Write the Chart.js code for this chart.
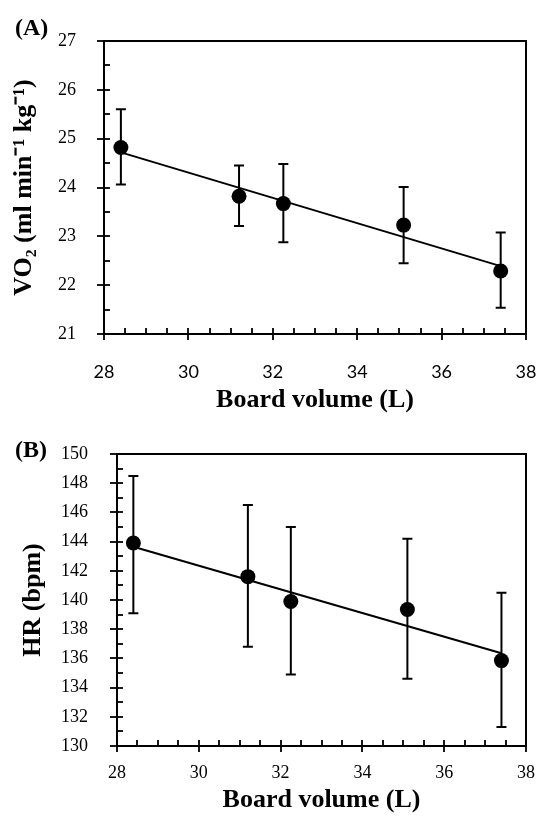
<!DOCTYPE html>
<html><head><meta charset="utf-8">
<script src="https://cdn.jsdelivr.net/npm/chart.js@4.4.1/dist/chart.umd.min.js"></script>
<style>
html,body{margin:0;padding:0;background:#fff;}
#wrap{position:relative;width:538px;height:819px;overflow:hidden;}
.pane{position:absolute;left:0;width:538px;}
#pa{top:0;height:420px;}
#pb{top:420px;height:399px;}
.lab{position:absolute;font:bold 24px "Liberation Serif",serif;line-height:24px;color:#000;}
</style></head>
<body><div id="wrap">
<div class="pane" id="pa"><canvas id="ca"></canvas></div>
<div class="pane" id="pb"><canvas id="cb"></canvas></div>
<div class="lab" style="left:15px;top:15px">(A)</div>
<div class="lab" style="left:15px;top:437px">(B)</div>
</div>
<script>
// ---- data ----
const boardVolume = [28.4, 31.2, 32.25, 35.1, 37.4];
const vo2Mean  = [24.82, 23.82, 23.67, 23.23, 22.29];
const vo2Upper = [25.60, 24.45, 24.48, 24.01, 23.08];
const vo2Lower = [24.06, 23.21, 22.88, 22.45, 21.54];
const fitX     = [28.4, 37.4];
const vo2Fit   = [24.72, 22.39];
const hrMean   = [143.9, 141.6, 139.9, 139.35, 135.85];
const hrUpper  = [148.5, 146.5, 145.0, 144.2, 140.5];
const hrLower  = [139.1, 136.8, 134.9, 134.6, 131.3];
const hrFit    = [143.65, 136.35];
const xTicks   = [28, 30, 32, 34, 36, 38];
const vo2Ticks = [21, 22, 23, 24, 25, 26, 27];
const hrTicks  = [130, 132, 134, 136, 138, 140, 142, 144, 146, 148, 150];

const SERIF = '"Liberation Serif", "Times New Roman", serif';

function framePlugin(o) {
  return {
    id: 'frame',
    beforeDatasetsDraw(chart) {
      const {ctx, chartArea: a, scales: {x, y}} = chart;
      ctx.save();
      ctx.strokeStyle = '#000';
      ctx.lineCap = 'butt';
      ctx.lineWidth = 2;
      ctx.strokeRect(a.left, a.top, a.right - a.left, a.bottom - a.top);
      ctx.lineWidth = 1.8;
      const nx = Math.round((x.max - x.min) / o.xMinor);
      for (let i = 0; i <= nx; i++) {
        const v = x.min + i * o.xMinor;
        const px = Math.round(x.getPixelForValue(v));
        const major = Math.abs(v / o.xMajor - Math.round(v / o.xMajor)) < 1e-6;
        ctx.beginPath();
        ctx.moveTo(px, a.bottom + (major ? 6 : 0));
        ctx.lineTo(px, a.bottom - 6);
        ctx.stroke();
      }
      const ny = Math.round((y.max - y.min) / o.yMinor);
      for (let i = 0; i <= ny; i++) {
        const v = y.min + i * o.yMinor;
        const py = Math.round(y.getPixelForValue(v));
        const major = Math.abs((v - y.min) / o.yMajor - Math.round((v - y.min) / o.yMajor)) < 1e-6;
        ctx.beginPath();
        ctx.moveTo(a.left - (major ? 7 : 0), py);
        ctx.lineTo(a.left + 6, py);
        ctx.stroke();
      }
      ctx.lineWidth = 2;
      for (let i = 0; i < o.xs.length; i++) {
        const px = x.getPixelForValue(o.xs[i]);
        const pt = y.getPixelForValue(o.upper[i]);
        const pb = y.getPixelForValue(o.lower[i]);
        ctx.beginPath();
        ctx.moveTo(px, pt); ctx.lineTo(px, pb);
        ctx.moveTo(px - 5, pt); ctx.lineTo(px + 5, pt);
        ctx.moveTo(px - 5, pb); ctx.lineTo(px + 5, pb);
        ctx.stroke();
      }
      ctx.restore();
    }
  };
}

function makeChart(id, p) {
  const pts = boardVolume.map((v, i) => ({x: v, y: p.mean[i]}));
  const fit = fitX.map((v, i) => ({x: v, y: p.fit[i]}));
  return new Chart(document.getElementById(id), {
    type: 'scatter',
    data: {
      datasets: [
        {data: pts, pointRadius: 7.5, pointHoverRadius: 7.5, backgroundColor: '#000', borderWidth: 0, pointBorderWidth: 0},
        {data: fit, showLine: true, pointRadius: 0, borderColor: '#000', borderWidth: 2, fill: false}
      ]
    },
    options: {
      responsive: true,
      maintainAspectRatio: false,
      animation: false,
      events: [],
      layout: {padding: {top: p.padTop, right: 12, left: 0, bottom: 0}},
      plugins: {legend: {display: false}, tooltip: {enabled: false}},
      scales: {
        x: {
          type: 'linear', min: 28, max: 38,
          afterBuildTicks: s => { s.ticks = xTicks.map(v => ({value: v})); },
          afterFit: s => { s.height = p.xHeight; s.paddingLeft = 0; s.paddingRight = 0; },
          grid: {display: false}, border: {display: false},
          ticks: {color: '#000', font: {family: p.xFont, size: 18}, padding: p.xPad, maxRotation: 0},
          title: {display: true, text: 'Board volume (L)', color: '#000',
                  font: {family: SERIF, size: 26, weight: 'bold'}, padding: {top: 0, bottom: p.xTitlePad}}
        },
        y: {
          type: 'linear', min: p.yTicks[0], max: p.yTicks[p.yTicks.length - 1],
          afterBuildTicks: s => { s.ticks = p.yTicks.map(v => ({value: v})); },
          afterFit: s => { s.width = p.yWidth; s.paddingTop = 0; s.paddingBottom = 0; },
          grid: {display: false}, border: {display: false},
          ticks: {color: '#000', font: {family: SERIF, size: 18}, padding: p.yPad},
          title: {display: true, text: p.yTitle, color: '#000',
                  font: {family: SERIF, size: 26, weight: 'bold'}, padding: {top: p.yTitlePad, bottom: 0}}
        }
      }
    },
    plugins: [framePlugin({xs: boardVolume, upper: p.upper, lower: p.lower,
                           xMinor: 0.5, xMajor: 2, yMinor: p.yMinor, yMajor: p.yMajor})]
  });
}

makeChart('ca', {
  mean: vo2Mean, upper: vo2Upper, lower: vo2Lower, fit: vo2Fit, yTicks: vo2Ticks,
  yTitle: 'VO\u2082 (ml min\u207B\u00B9 kg\u207B\u00B9)',
  padTop: 41, xHeight: 86, yWidth: 104, xPad: 19, yPad: 20, xTitlePad: 4, yTitlePad: 9,
  yMinor: 0.5, yMajor: 1, xFont: '"Lato", "Open Sans", sans-serif'
});
makeChart('cb', {
  mean: hrMean, upper: hrUpper, lower: hrLower, fit: hrFit, yTicks: hrTicks,
  yTitle: 'HR (bpm)',
  padTop: 34, xHeight: 73, yWidth: 117, xPad: 8, yPad: 21, xTitlePad: 3, yTitlePad: 18,
  yMinor: 1, yMajor: 2, xFont: SERIF
});
</script>
</body></html>
